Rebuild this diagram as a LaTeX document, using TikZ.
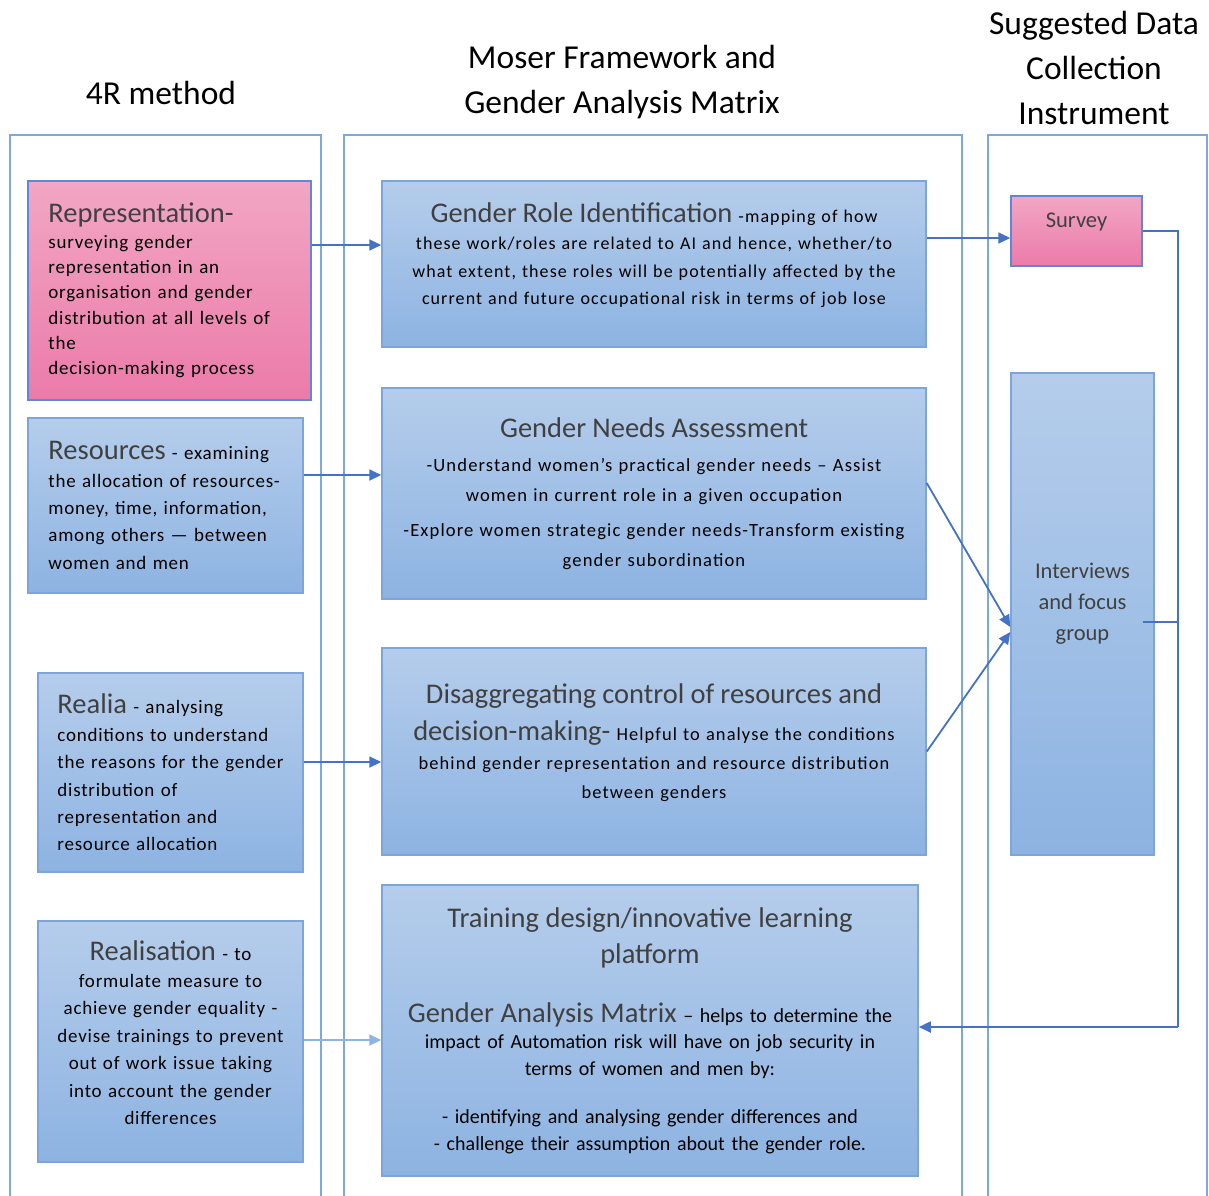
\documentclass[tikz,border=0pt]{standalone}
\usepackage{fontspec}
\setmainfont{Carlito}
\newfontfamily\trk{Carlito}[LetterSpace=4]
\newfontfamily\trkm{Carlito}[LetterSpace=6]
\newfontfamily\plainfont{Carlito}
\usetikzlibrary{arrows.meta,calc}
\definecolor{boxtop}{HTML}{B5CDEB}
\definecolor{boxbot}{HTML}{8DB3E2}
\definecolor{boxline}{HTML}{7DA5DC}
\definecolor{pinktop}{HTML}{F2A6C4}
\definecolor{pinkbot}{HTML}{EB7BA9}
\definecolor{pinkline}{HTML}{6286D6}
\definecolor{arrowblue}{HTML}{4472C4}
\definecolor{lightarrow}{HTML}{8DB4E2}
\definecolor{framecol}{HTML}{7FA7DD}
\definecolor{ttlgray}{HTML}{404040}
\newcommand\ttl[2][28.5]{{\plainfont\fontsize{#1}{#1}\selectfont\color{ttlgray}#2}}
\newcommand\nohyph{\hyphenpenalty=10000\relax\exhyphenpenalty=10000\relax}
\begin{document}
\begin{tikzpicture}[x=1pt,y=-1pt,
  bluebox/.style={draw=boxline,line width=1.5pt,top color=boxtop,bottom color=boxbot,inner sep=0pt},
  pinkbox/.style={draw=pinkline,line width=1.5pt,top color=pinktop,bottom color=pinkbot,inner sep=0pt},
  frame/.style={draw=framecol,line width=1.3pt},
  arr/.style={draw=arrowblue,line width=1.8pt,-{Triangle[length=12pt,width=11pt]}},
  lightarr/.style={draw=lightarrow,line width=1.8pt,-{Triangle[length=12pt,width=11pt]}},
  conn/.style={draw=arrowblue,line width=1.5pt},
  hdr/.style={font=\fontsize{33.5}{45}\selectfont,align=center,inner sep=0pt},
  lefttxt/.style={inner sep=0pt,align=left,font=\nohyph\trk\fontsize{19}{25.3}\selectfont},
  lefttxtw/.style={inner sep=0pt,align=left,font=\nohyph\trk\fontsize{19}{27.4}\selectfont},
  midtxt/.style={inner sep=0pt,align=center},
  graytxt/.style={inner sep=0pt,align=center,text=ttlgray,font=\fontsize{22.5}{31}\selectfont}
]
\useasboundingbox (0,0) rectangle (1209,1195);
\clip (0,0) rectangle (1209,1195);

% column frames
\draw[frame] (10,1210) |- (321,135) -- (321,1210);
\draw[frame] (344,1210) |- (962,135) -- (962,1210);
\draw[frame] (988,1210) |- (1207,135) -- (1207,1210);

% headers
\node[hdr] (h1) at (161,93) {4R method};
\node[hdr] (h2) at (622,82) {Moser Framework and\\Gender Analysis Matrix};
\node[hdr] (h3) at (1094,68) {Suggested Data\\Collection\\Instrument};

% left column boxes
\node[pinkbox,minimum width=283,minimum height=219] (rep) at (169.5,290.5) {};
\node[lefttxt,text width=280,anchor=west] (rept) at ([xshift=21]rep.west) {\ttl{Representation-}\\surveying gender\\representation in an\\organisation and gender\\distribution at all levels of\\the\\decision-making process};

\node[bluebox,minimum width=275,minimum height=175] (res) at (165.5,505.5) {};
\node[lefttxtw,text width=280,anchor=west] (rest) at ([xshift=21]res.west) {\ttl{Resources} - examining\\the allocation of resources-\\money, time, information,\\among others — between\\women and men};

\node[bluebox,minimum width=265,minimum height=199] (rea) at (170.5,772.5) {};
\node[lefttxtw,text width=280,anchor=west] (reat) at ([xshift=20]rea.west) {\ttl{Realia} - analysing\\conditions to understand\\the reasons for the gender\\distribution of\\representation and\\resource allocation};

\node[bluebox,minimum width=265,minimum height=241] (rls) at (170.5,1041.5) {};
\node[lefttxtw,align=center,text width=290] (rlst) at ([yshift=9]rls.center) {\ttl{Realisation} - to\\formulate measure to\\achieve gender equality -\\devise trainings to prevent\\out of work issue taking\\into account the gender\\differences};

% middle column boxes
\node[bluebox,minimum width=544,minimum height=166] (gri) at (654,264) {};
\node[midtxt,text width=530,font=\nohyph\trkm\fontsize{18}{27.5}\selectfont] (grit) at ([yshift=9]gri.center) {\ttl{Gender Role Identification} -mapping of how\\these work/roles are related to AI and hence, whether/to\\what extent, these roles will be potentially affected by the\\current and future occupational risk in terms of job lose};

\node[bluebox,minimum width=544,minimum height=211] (gna) at (654,493.5) {};
\node[midtxt,text width=530,font=\nohyph\trkm\fontsize{18.6}{30}\selectfont] (gnat) at (gna.center) {\ttl{Gender Needs Assessment}\\[4pt]-Understand women’s practical gender needs – Assist\\women in current role in a given occupation\\[5pt]-Explore women strategic gender needs-Transform existing\\gender subordination};

\node[bluebox,minimum width=544,minimum height=207] (dis) at (654,751.5) {};
\node[midtxt,text width=530,font=\nohyph\trkm\fontsize{18.4}{29}\selectfont] (dist) at ([yshift=9]dis.center) {\ttl{Disaggregating control of resources and}\\[8pt]\ttl{decision-making-} Helpful to analyse the conditions\\behind gender representation and resource distribution\\between genders};

\node[bluebox,minimum width=536,minimum height=291] (trn) at (650,1030.5) {};
\node[midtxt,text width=530,font=\nohyph\plainfont\fontsize{20}{26.5}\selectfont] (trnt) at (trn.center) {\ttl{Training design/innovative learning}\\[10pt]\ttl{platform}\\[32pt]\ttl{Gender Analysis Matrix} – helps to determine the\\impact of Automation risk will have on job security in\\terms of women and men by:\\[22pt]- identifying and analysing gender differences and\\- challenge their assumption about the gender role.};

% right column boxes
\node[pinkbox,minimum width=131,minimum height=70] (sur) at (1076.5,231) {};
\node[graytxt] (surt) at ([yshift=9]sur.center) {Survey};

\node[bluebox,minimum width=143,minimum height=482] (int) at (1082.5,614) {};
\node[graytxt] (intt) at ([yshift=10]int.center) {Interviews\\and focus\\group};

% connectors
\coordinate (bus) at (1178,230);
\draw[arr] ([yshift=45.5]rep.east) -- ([yshift=45.5]rep.east -| gri.west);
\draw[arr] ([yshift=30.5]res.east) -- ([yshift=30.5]res.east -| gna.west);
\draw[arr] ([yshift=10.5]rea.east) -- ([yshift=10.5]rea.east -| dis.west);
\draw[lightarr] ([yshift=1.5]rls.east) -- ([yshift=1.5]rls.east -| trn.west);
\draw[arr] ([yshift=26]gri.east) -- ([yshift=26]gri.east -| sur.west);
\draw[arr] ([yshift=10.5]gna.east) -- ([yshift=-13]int.west);
\draw[arr] (dis.east) -- ([yshift=-18]int.west);
\draw[conn] (sur.east) -- (sur.east -| bus) -- ([yshift=3.5]trn.east -| bus);
\draw[arr] ([yshift=3.5]trn.east -| bus) -- ([yshift=3.5]trn.east);
\draw[conn] ([yshift=-8]int.east) ++(-12,0) -- ([yshift=-8]int.east -| bus);
\end{tikzpicture}
\end{document}
